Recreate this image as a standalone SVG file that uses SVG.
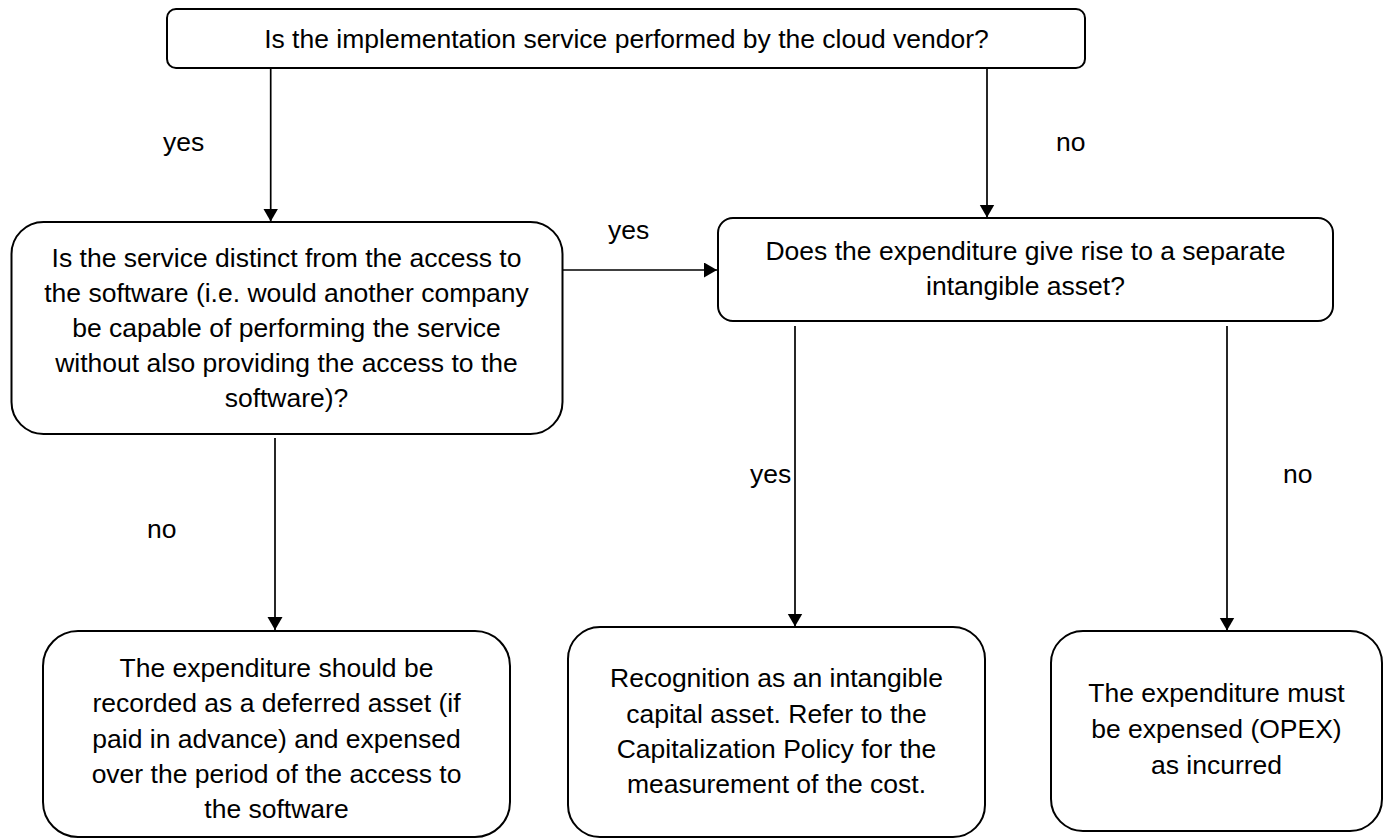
<svg xmlns="http://www.w3.org/2000/svg" width="1389" height="839" viewBox="0 0 1389 839">
<defs>
<style>
.box{fill:#fff;stroke:#000;stroke-width:2}
.t{font-family:"Liberation Sans",Arial,sans-serif;font-size:26.5px;fill:#000;text-anchor:middle}
.l{font-family:"Liberation Sans",Arial,sans-serif;font-size:26.5px;fill:#000}
.c{fill:none;stroke:#000;stroke-width:1.7}
</style>
<marker id="ah" markerUnits="userSpaceOnUse" markerWidth="14" markerHeight="16" refX="13" refY="7.5" orient="auto">
<path d="M0,0 L13,7.5 L0,15 z" fill="#000"/>
</marker>
</defs>
<rect width="1389" height="839" fill="#fff"/>
<g id="connectors">
<path class="c" d="M270.7,68 V221.5" marker-end="url(#ah)"/>
<path class="c" d="M987,68 V217.5" marker-end="url(#ah)"/>
<path class="c" d="M563,270 H717" marker-end="url(#ah)"/>
<path class="c" d="M275,438 V630" marker-end="url(#ah)"/>
<path class="c" d="M795,326 V626.5" marker-end="url(#ah)"/>
<path class="c" d="M1227,326 V630.5" marker-end="url(#ah)"/>
<text class="l" x="163" y="151">yes</text>
<text class="l" x="1056" y="151">no</text>
<text class="l" x="608" y="239">yes</text>
<text class="l" x="750" y="483">yes</text>
<text class="l" x="1283" y="483">no</text>
<text class="l" x="147" y="538">no</text>
</g>
<g id="q1">
<rect class="box" x="167" y="9" width="918" height="59" rx="9"/>
<text class="t" x="626.5" y="47.5">Is the implementation service performed by the cloud vendor?</text>
</g>
<g id="q2">
<rect class="box" x="11.5" y="222" width="551" height="212" rx="32"/>
<text class="t" x="286.5" y="266.5">Is the service distinct from the access to</text>
<text class="t" x="286.5" y="301.7">the software (i.e. would another company</text>
<text class="t" x="286.5" y="336.9">be capable of performing the service</text>
<text class="t" x="286.5" y="372.1">without also providing the access to the</text>
<text class="t" x="286.5" y="407.3">software)?</text>
</g>
<g id="q3">
<rect class="box" x="718" y="218" width="615" height="103" rx="15"/>
<text class="t" x="1025.5" y="260">Does the expenditure give rise to a separate</text>
<text class="t" x="1025.5" y="295">intangible asset?</text>
</g>
<g id="r1">
<rect class="box" x="43" y="631" width="467" height="206" rx="35"/>
<text class="t" x="276.5" y="677">The expenditure should be</text>
<text class="t" x="276.5" y="712.3">recorded as a deferred asset (if</text>
<text class="t" x="276.5" y="747.6">paid in advance) and expensed</text>
<text class="t" x="276.5" y="782.9">over the period of the access to</text>
<text class="t" x="276.5" y="818.2">the software</text>
</g>
<g id="r2">
<rect class="box" x="568" y="627" width="417" height="210" rx="32"/>
<text class="t" x="776.5" y="687.3">Recognition as an intangible</text>
<text class="t" x="776.5" y="722.6">capital asset. Refer to the</text>
<text class="t" x="776.5" y="757.9">Capitalization Policy for the</text>
<text class="t" x="776.5" y="793.2">measurement of the cost.</text>
</g>
<g id="r3">
<rect class="box" x="1051" y="631" width="331" height="200" rx="32"/>
<text class="t" x="1216.5" y="702">The expenditure must</text>
<text class="t" x="1216.5" y="738">be expensed (OPEX)</text>
<text class="t" x="1216.5" y="774">as incurred</text>
</g>
</svg>
